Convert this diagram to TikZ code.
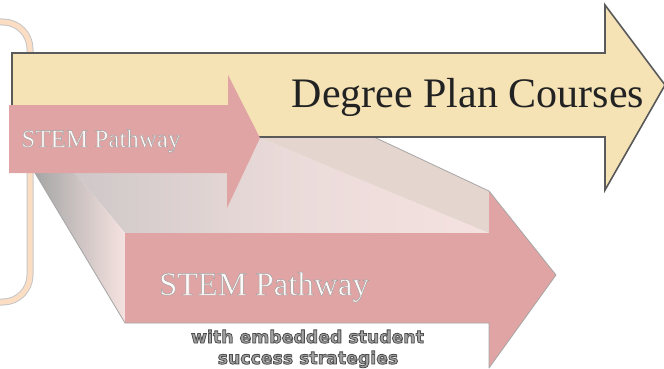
\documentclass[tikz,border=0pt]{standalone}
\usepackage{fontspec}
\setmainfont{Liberation Serif}
\newfontfamily\labelsans{DejaVu Sans}
\definecolor{pathpink}{HTML}{E0A4A4}
\definecolor{planyellow}{HTML}{F5E3B6}
\definecolor{planedge}{HTML}{5A5A5A}
\definecolor{facelight}{HTML}{F5E2E0}
\definecolor{facebeige}{HTML}{E5D5CF}
\definecolor{facegray}{HTML}{A6A6A6}
\definecolor{facegraylight}{HTML}{CFC8C8}
\definecolor{bracketpeach}{HTML}{FBDDC4}
\definecolor{textdark}{HTML}{222222}
\definecolor{subgray}{HTML}{A2A2A2}
\definecolor{stemwhite}{HTML}{FDF9F9}
% text filled with one colour and stroked with another (#1 stroke rgb, #2 width)
\newcommand\outlinedtext[4]{{\color{#3}\special{pdf:code q #2 w #1 RG 2 Tr}#4\special{pdf:code Q}}}
\tikzset{
  arrowfill/.style={fill=pathpink, draw=none},
  silhouette/.style={draw=gray!70, line width=0.8pt, line join=round},
  titletext/.style={anchor=base, inner sep=0pt, text=textdark, font=\fontsize{42}{42}\selectfont},
  smallstem/.style={anchor=base, inner sep=0pt, font=\fontsize{25}{25}\selectfont},
  bigstem/.style={anchor=base, inner sep=0pt, font=\fontsize{33}{33}\selectfont},
  subtext/.style={anchor=base, inner sep=0pt, font=\labelsans\bfseries\fontsize{17.3}{22}\selectfont},
}
\begin{document}
\begin{tikzpicture}[x=1pt, y=-1pt]
\useasboundingbox (0,0) rectangle (664,369);
% bracket
\draw[gray!45, line width=7pt, rounded corners=27pt] (-40,22) -- (30,22) -- (30,302) -- (-40,302);
\draw[bracketpeach, line width=5pt, rounded corners=27pt] (-40,22) -- (30,22) -- (30,302) -- (-40,302);
% extrusion: top face
\shade[left color=facegraylight, right color=facelight, middle color=facelight!70!facegraylight]
  (75,173) -- (240,173) -- (260,138) -- (489,233) -- (125,233) -- cycle;
% extrusion: beige head face
\fill[facebeige] (255,128) -- (355,128) -- (489,191) -- (489,233) -- (260,138) -- cycle;
\draw[silhouette] (375,137.5) -- (489,191);
% extrusion: left side face
\shade[left color=facegray, right color=facelight] (35,173) -- (75,173) -- (125,233) -- (125,323) -- cycle;
\draw[gray!70, line width=0.8pt] (35,173) -- (125,323);
% yellow arrow
\filldraw[fill=planyellow, draw=planedge, line width=1.6pt, line join=miter]
  (12,53) -- (605,53) -- (605,5) -- (665,85) -- (605,190) -- (605,137) -- (12,137) -- cycle;
\node[titletext] (title) at (468,107) {Degree Plan Courses};
% small STEM arrow
\fill[arrowfill] (9,105) -- (228,105) -- (228,75) -- (260,138) -- (227,208) -- (227,173) -- (9,173) -- cycle;
\node[smallstem] (stemsmall) at (101,147) {\outlinedtext{0.62 0.62 0.62}{0.4}{stemwhite}{STEM Pathway}};
% big STEM arrow
\fill[arrowfill] (125,233) -- (489,233) -- (489,191) -- (556,275) -- (489,368) -- (489,323) -- (125,323) -- cycle;
\draw[silhouette] (125,323) -- (489,323) -- (489,368) -- (556,275) -- (489,191);
\node[bigstem] (stembig) at (264,295) {\outlinedtext{0.62 0.62 0.62}{0.45}{stemwhite}{STEM Pathway}};
\node[subtext] (sub1) at (307.5,343) {\outlinedtext{0.3 0.3 0.3}{0.8}{subgray}{with embedded student}};
\node[subtext] (sub2) at (308,364) {\outlinedtext{0.3 0.3 0.3}{0.8}{subgray}{success strategies}};
\end{tikzpicture}
\end{document}
